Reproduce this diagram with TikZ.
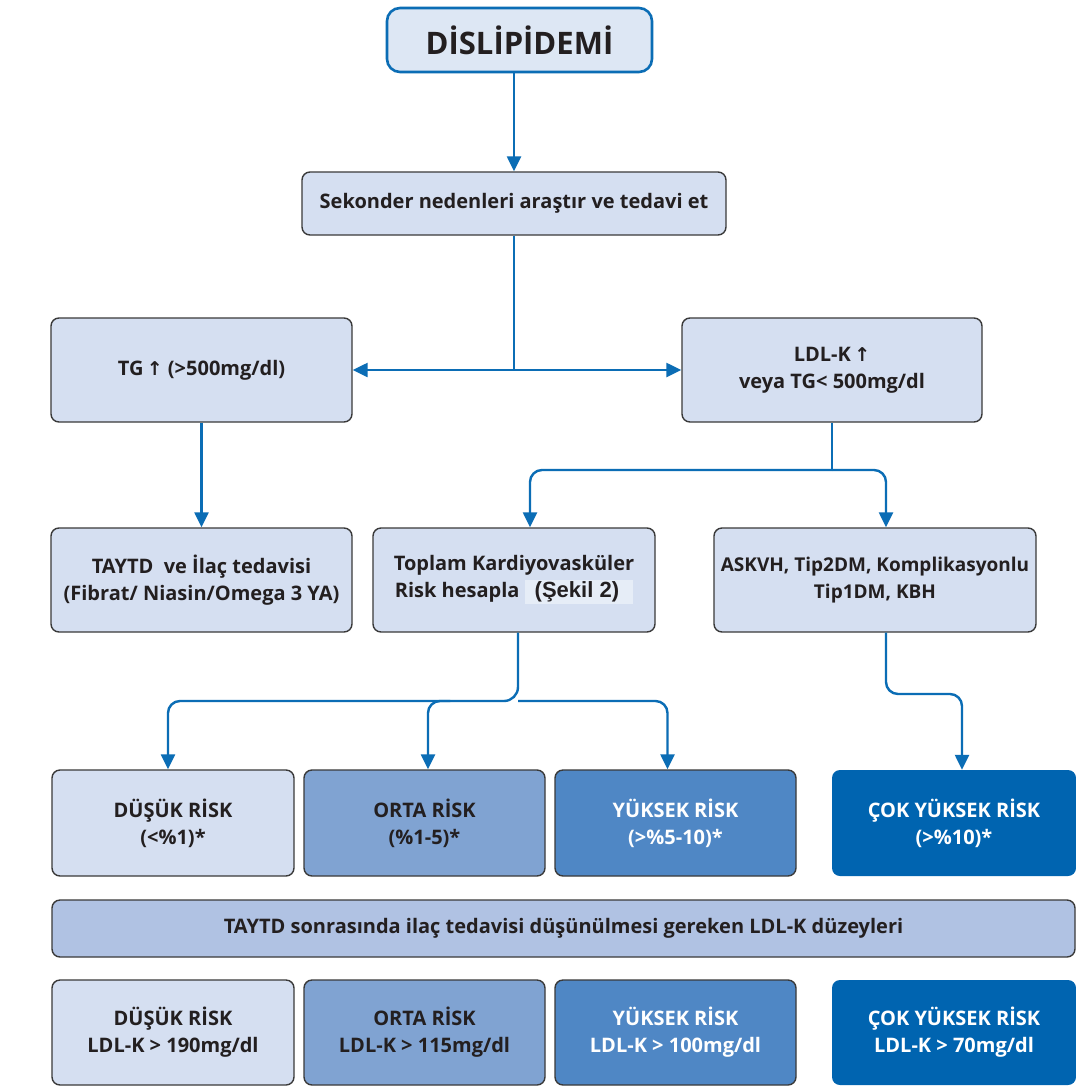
\documentclass[tikz,border=0pt]{standalone}
\usepackage{fontspec}
\setmainfont{Open Sans}
\newfontfamily\arrfont{DejaVu Sans}
\newfontfamily\arialfont{Liberation Sans}
\usetikzlibrary{arrows.meta}
\definecolor{arrblue}{HTML}{0B6DB5}
\definecolor{lightfill}{HTML}{D5DFF1}
\definecolor{titlefill}{HTML}{DDE7F4}
\definecolor{ortafill}{HTML}{80A3D2}
\definecolor{yukfill}{HTML}{4F87C5}
\definecolor{cokfill}{HTML}{0064B0}
\definecolor{bandfill}{HTML}{B0C2E3}
\definecolor{boxline}{HTML}{3A3A3A}
\definecolor{txt}{HTML}{231F20}
\definecolor{sekilbg}{HTML}{E6EDF7}
\newcommand{\upar}{{\arrfont\fontsize{19}{20}\selectfont\char"2191}}
\tikzset{
  boxbase/.style={rectangle, rounded corners=8pt, inner sep=0pt, align=center,
    font=\bfseries\fontsize{20}{27}\selectfont, text=txt},
  plainbox/.style={boxbase, draw=boxline, line width=1.4pt, fill=lightfill},
  titlebox/.style={boxbase, draw=arrblue, line width=2.6pt, fill=titlefill, rounded corners=13pt,
    font=\bfseries\fontsize{31}{36}\selectfont},
  ortabox/.style={boxbase, draw=boxline, line width=1.4pt, fill=ortafill},
  yukbox/.style={boxbase, draw=boxline, line width=1.4pt, fill=yukfill, text=white},
  cokbox/.style={boxbase, fill=cokfill, text=white},
  bandbox/.style={boxbase, draw=boxline, line width=1.4pt, fill=bandfill},
  conn/.style={draw=arrblue, line width=2.4pt},
  arr/.style={conn, -{Triangle[length=15pt,width=14pt]}},
}
\begin{document}
\begin{tikzpicture}[x=1pt,y=-1pt]
\useasboundingbox (0,0) rectangle (1076,1088);
\fill[white] (0,0) rectangle (1076,1088);

\node[titlebox, minimum width=265pt, minimum height=64pt] (dis) at (519.5,40) {DİSLİPİDEMİ};
\node[plainbox, minimum width=424pt, minimum height=63pt] (sek) at (514,203.5) {Sekonder nedenleri araştır ve tedavi et};
\node[plainbox, minimum width=301pt, minimum height=104pt] (tg) at (201.5,370) {TG\,\upar\ (>500mg/dl)};
\node[plainbox, minimum width=300pt, minimum height=104pt] (ldl) at (832,370) {LDL-K\,\upar\\veya TG< 500mg/dl};
\node[plainbox, minimum width=301pt, minimum height=104pt] (tay) at (201.5,580) {TAYTD\ \ ve İlaç tedavisi\\(Fibrat/ Niasin/Omega 3 YA)};
\node[plainbox, minimum width=282pt, minimum height=104pt] (top) at (514,580) {Toplam Kardiyovasküler\\Risk hesapla\ {\setlength{\fboxsep}{2pt}\colorbox{sekilbg}{\arialfont\bfseries\fontsize{22}{24}\selectfont\hspace{8pt}(Şekil 2)\hspace{12pt}}}};
\node[plainbox, minimum width=322pt, minimum height=104pt, font=\bfseries\fontsize{19}{27}\selectfont] (ask) at (875,580) {ASKVH, Tip2DM, Komplikasyonlu\\Tip1DM, KBH};

\node[plainbox, minimum width=242pt, minimum height=106pt] (r1) at (173,823) {DÜŞÜK RİSK\\(<\%1)*};
\node[ortabox, minimum width=241pt, minimum height=106pt] (r2) at (424.5,823) {ORTA RİSK\\(\%1-5)*};
\node[yukbox, minimum width=241pt, minimum height=106pt] (r3) at (675.5,823) {YÜKSEK RİSK\\(>\%5-10)*};
\node[cokbox, minimum width=244pt, minimum height=106pt] (r4) at (954,823) {ÇOK YÜKSEK RİSK\\(>\%10)*};

\node[bandbox, minimum width=1023pt, minimum height=57pt] (band) at (563.5,928.5) {TAYTD sonrasında ilaç tedavisi düşünülmesi gereken LDL-K düzeyleri};

\node[plainbox, minimum width=242pt, minimum height=105pt] (b1) at (173,1032.5) {DÜŞÜK RİSK\\LDL-K > 190mg/dl};
\node[ortabox, minimum width=241pt, minimum height=105pt] (b2) at (424.5,1032.5) {ORTA RİSK\\LDL-K > 115mg/dl};
\node[yukbox, minimum width=241pt, minimum height=105pt] (b3) at (675.5,1032.5) {YÜKSEK RİSK\\LDL-K > 100mg/dl};
\node[cokbox, minimum width=244pt, minimum height=105pt] (b4) at (954,1032.5) {ÇOK YÜKSEK RİSK\\LDL-K > 70mg/dl};

% connectors
\draw[arr] ([xshift=-5.5pt]dis.south) -- (sek.north);
\coordinate (j1) at (514,370);
\draw[conn] (sek.south) -- (j1);
\draw[arr] (j1) -- (tg.east);
\draw[arr] (j1) -- (ldl.west);

\draw[arr] (tg.south) -- (tay.north);

\coordinate (j2) at (832,470);
\draw[conn] (ldl.south) -- (j2);
\draw[arr, rounded corners=12pt] (j2) -| ([xshift=16pt]top.north);
\draw[arr, rounded corners=12pt] (j2) -| ([xshift=11pt]ask.north);

\coordinate (j3) at (518,701);
\coordinate (j3b) at (450,701);
\draw[conn, rounded corners=14pt] ([xshift=4pt]top.south) -- (j3) -- (j3b);
\draw[arr, rounded corners=12pt] (j3b) -| ([xshift=-5pt]r1.north);
\draw[arr, rounded corners=12pt] (j3b) -| ([xshift=3.5pt]r2.north);
\draw[arr, rounded corners=12pt] (j3) -| ([xshift=-8pt]r3.north);

\coordinate (j4) at (886,694);
\draw[arr, rounded corners=12pt] ([xshift=11pt]ask.south) -- (j4) -| ([xshift=8pt]r4.north);
\end{tikzpicture}
\end{document}
